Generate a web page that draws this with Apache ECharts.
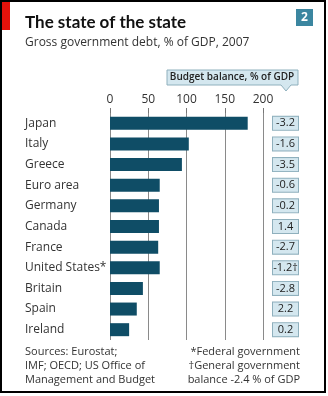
<!DOCTYPE html>
<html><head><meta charset="utf-8">
<script src="https://cdn.jsdelivr.net/npm/echarts@6/dist/echarts.min.js"></script>
<style>html,body{margin:0;padding:0;background:#fff}#c{width:328px;height:396px}</style>
</head><body><div id="c"></div>
<script>
const categories = ["Japan","Italy","Greece","Euro area","Germany","Canada","France","United States*","Britain","Spain","Ireland"];
const debt = [180,103,94,65,64,64,63,65,43,35,25];
const budgetBalance = ["-3.2","-1.6","-3.5","-0.6","-0.2","1.4","-2.7","-1.2†","-2.8","2.2","0.2"];
const xTicks = [0,50,100,150,200];

const FONT = "'Open Sans', 'Noto Sans', sans-serif";
const chart = echarts.init(document.getElementById('c'), null, {renderer:'canvas'});
chart.setOption({
  animation:false,
  textStyle:{fontFamily:FONT},
  grid:{left:110, right:65, top:113, bottom:56, containLabel:false},
  xAxis:{type:'value', position:'top', min:0, max:200, interval:50,
    axisLine:{show:false},
    axisTick:{show:true, length:5, lineStyle:{color:'#777', width:1}},
    axisLabel:{margin:7, color:'#333', fontSize:12, fontFamily:FONT,
      formatter:v=>xTicks.indexOf(v)>=0?String(v):''},
    splitLine:{show:true, lineStyle:{color:'#8a8a8a', width:1}}},
  yAxis:[{type:'category', data:categories, inverse:true,
    axisLine:{show:false}, axisTick:{show:false},
    axisLabel:{align:'left', margin:85, color:'#333', fontSize:12, fontFamily:FONT}},
   {type:'category', data:budgetBalance, inverse:true, position:'right',
    axisLine:{show:false}, axisTick:{show:false},
    axisLabel:{align:'left', margin:10, formatter:v=>'{b|'+v+'}',
      rich:{b:{backgroundColor:'#d4e7ef', borderColor:'#8fb0bd', borderWidth:1,
        width:21, align:'center', padding:[1,2,1,2], color:'#222', fontSize:11, fontFamily:FONT, lineHeight:12}}}}],
  series:[{type:'bar', data:debt, barWidth:13, itemStyle:{color:'#0f4d66'}, yAxisIndex:0}],
  graphic:[
    {type:'rect', shape:{x:1, y:1, width:324, height:391}, style:{fill:'none', stroke:'#000', lineWidth:2}, z:100},
    {type:'rect', shape:{x:2, y:2, width:8, height:28}, style:{fill:'#e3120b'}, z:101},
    {type:'text', left:25, top:14, style:{text:'The state of the state', font:"bold 17px Lato, "+FONT, fill:'#111'}},
    {type:'text', left:25, top:37, style:{text:'Gross government debt, % of GDP, 2007', font:"12px "+FONT, fill:'#333'}},
    {type:'rect', shape:{x:296, y:9, width:17, height:17}, style:{fill:'#3b86a0'}},
    {type:'text', x:304.5, y:17.5, style:{text:'2', font:"bold 12px "+FONT, fill:'#fff', align:'center', verticalAlign:'middle'}},
    {type:'polygon', shape:{points:[[167,70],[298,70],[298,85],[291,85],[286,91],[281,85],[167,85]]},
      style:{fill:'#d4e7ef', stroke:'#8fb0bd', lineWidth:1}},
    {type:'text', x:232, y:77.5, style:{text:'Budget balance, % of GDP', font:"600 10px "+FONT, fill:'#222', align:'center', verticalAlign:'middle'}},
    {type:'text', left:25, top:345, style:{text:'Sources: Eurostat;\nIMF; OECD; US Office of\nManagement and Budget', font:"11px "+FONT, lineHeight:14, fill:'#333'}},
    {type:'text', x:300, y:345, style:{text:'*Federal government\n†General government\nbalance -2.4 % of GDP', font:"11px "+FONT, lineHeight:14, fill:'#333', align:'right'}}
  ]
});
</script></body></html>
